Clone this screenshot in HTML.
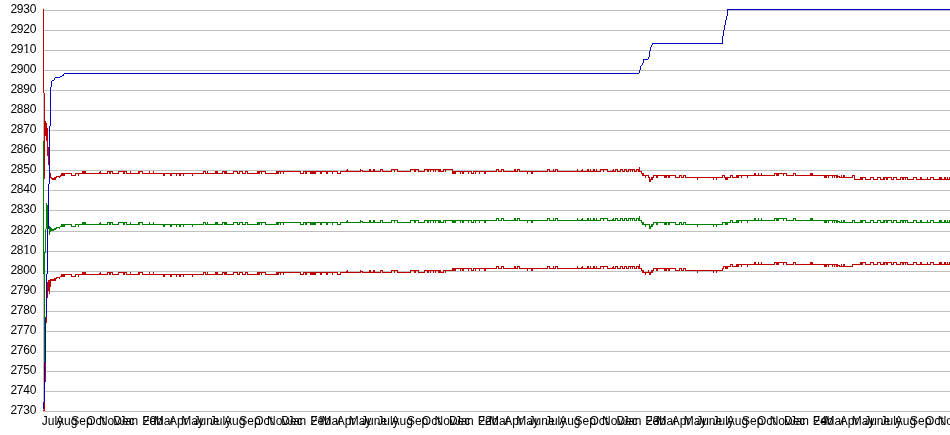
<!DOCTYPE html><html><head><meta charset="utf-8"><title>chart</title><style>
html,body{margin:0;padding:0;background:#fff;overflow:hidden}svg{display:block}text{font-family:"Liberation Sans",sans-serif;font-size:12px;fill:#000}
</style></head><body>
<svg width="950" height="435" viewBox="0 0 950 435" style="will-change:transform">
<defs><filter id="gs" filterUnits="userSpaceOnUse" x="0" y="0" width="950" height="435" color-interpolation-filters="sRGB"><feColorMatrix type="matrix" values="1 0 0 0 0 0 1 0 0 0 0 0 1 0 0 0 0 0 1 0"/></filter></defs>
<rect width="950" height="435" fill="#fff"/>
<g shape-rendering="crispEdges">
<rect x="43" y="10" width="1" height="402" fill="#c0c0c0"/>
<path d="M44 411h906v1h-906zM44 391h906v1h-906zM44 371h906v1h-906zM44 351h906v1h-906zM44 331h906v1h-906zM44 311h906v1h-906zM44 291h906v1h-906zM44 271h906v1h-906zM44 251h906v1h-906zM44 231h906v1h-906zM44 210h906v1h-906zM44 190h906v1h-906zM44 170h906v1h-906zM44 150h906v1h-906zM44 130h906v1h-906zM44 110h906v1h-906zM44 90h906v1h-906zM44 70h906v1h-906zM44 50h906v1h-906zM44 30h906v1h-906zM44 10h906v1h-906z" fill="#c0c0c0"/>
<path d="M43 9h1v1h-1zM43 10h1v1h-1zM43 11h1v1h-1zM43 12h1v1h-1zM43 13h1v1h-1zM43 14h1v1h-1zM43 15h1v1h-1zM43 16h1v1h-1zM43 17h1v1h-1zM43 18h1v1h-1zM43 19h1v1h-1zM43 20h1v1h-1zM43 21h1v1h-1zM43 22h1v1h-1zM43 23h1v1h-1zM43 24h1v1h-1zM43 25h1v1h-1zM43 26h1v1h-1zM43 27h1v1h-1zM43 28h1v1h-1zM43 29h1v1h-1zM43 30h1v1h-1zM43 31h1v1h-1zM43 32h1v1h-1zM43 33h1v1h-1zM43 34h1v1h-1zM43 35h1v1h-1zM43 36h1v1h-1zM43 37h1v1h-1zM43 38h1v1h-1zM43 39h1v1h-1zM43 40h1v1h-1zM43 41h1v1h-1zM43 42h1v1h-1zM43 43h1v1h-1zM43 44h1v1h-1zM43 45h1v1h-1zM43 46h1v1h-1zM43 47h1v1h-1zM43 48h1v1h-1zM43 49h1v1h-1zM43 50h1v1h-1zM43 51h1v1h-1zM43 52h1v1h-1zM43 53h1v1h-1zM43 54h1v1h-1zM43 55h1v1h-1zM43 56h1v1h-1zM43 57h1v1h-1zM43 58h1v1h-1zM43 59h1v1h-1zM43 60h1v1h-1zM43 61h1v1h-1zM43 62h1v1h-1zM43 63h1v1h-1zM43 64h1v1h-1zM43 65h1v1h-1zM43 66h1v1h-1zM43 67h1v1h-1zM43 68h1v1h-1zM43 69h1v1h-1zM43 70h1v1h-1zM43 71h1v1h-1zM43 72h1v1h-1zM43 73h1v1h-1zM43 74h1v1h-1zM43 75h1v1h-1zM43 76h1v1h-1zM43 77h1v1h-1zM43 78h1v1h-1zM43 79h1v1h-1zM43 80h1v1h-1zM43 81h1v1h-1zM43 82h1v1h-1zM43 83h1v1h-1zM43 84h1v1h-1zM43 85h1v1h-1zM43 86h1v1h-1zM43 87h1v1h-1zM43 88h1v1h-1zM43 89h1v1h-1zM43 90h1v1h-1zM43 91h1v1h-1zM43 92h1v1h-1zM44 93h1v1h-1zM44 94h1v1h-1zM44 95h1v1h-1zM44 96h1v1h-1zM44 97h1v1h-1zM44 98h1v1h-1zM44 99h1v1h-1zM44 100h1v1h-1zM44 101h1v1h-1zM44 102h1v1h-1zM44 103h1v1h-1zM44 104h1v1h-1zM44 105h1v1h-1zM44 106h1v1h-1zM44 107h1v1h-1zM44 108h1v1h-1zM44 109h1v1h-1zM44 110h1v1h-1zM44 111h1v1h-1zM44 112h1v1h-1zM44 113h1v1h-1zM44 114h1v1h-1zM44 115h1v1h-1zM44 116h1v1h-1zM44 117h1v1h-1zM44 118h1v1h-1zM44 119h1v1h-1zM44 120h1v1h-1zM44 121h2v1h-2zM44 122h2v1h-2zM44 123h3v1h-3zM44 124h3v1h-3zM44 125h3v1h-3zM44 126h3v1h-3zM44 127h3v1h-3zM44 128h4v1h-4zM44 129h4v1h-4zM44 130h4v1h-4zM44 131h4v1h-4zM44 132h4v1h-4zM44 133h4v1h-4zM44 134h4v1h-4zM44 135h4v1h-4zM44 136h1v1h-1zM46 136h2v1h-2zM44 137h1v1h-1zM46 137h2v1h-2zM44 138h1v1h-1zM46 138h2v1h-2zM44 139h1v1h-1zM46 139h2v1h-2zM44 140h1v1h-1zM46 140h2v1h-2zM44 141h1v1h-1zM47 141h1v1h-1zM44 142h1v1h-1zM47 142h1v1h-1zM44 143h1v1h-1zM47 143h1v1h-1zM44 144h1v1h-1zM47 144h1v1h-1zM44 145h1v1h-1zM47 145h1v1h-1zM44 146h1v1h-1zM47 146h1v1h-1zM44 147h1v1h-1zM47 147h2v1h-2zM44 148h1v1h-1zM47 148h2v1h-2zM44 149h1v1h-1zM47 149h2v1h-2zM44 150h1v1h-1zM47 150h2v1h-2zM44 151h1v1h-1zM47 151h2v1h-2zM44 152h1v1h-1zM47 152h2v1h-2zM44 153h1v1h-1zM47 153h2v1h-2zM44 154h1v1h-1zM47 154h2v1h-2zM44 155h1v1h-1zM47 155h2v1h-2zM44 156h1v1h-1zM48 156h1v1h-1zM44 157h1v1h-1zM48 157h1v1h-1zM44 158h1v1h-1zM48 158h1v1h-1zM44 159h1v1h-1zM48 159h1v1h-1zM44 160h1v1h-1zM48 160h1v1h-1zM44 161h1v1h-1zM48 161h1v1h-1zM44 162h1v1h-1zM48 162h1v1h-1zM44 163h1v1h-1zM48 163h1v1h-1zM44 164h1v1h-1zM48 164h1v1h-1zM44 165h1v1h-1zM44 166h1v1h-1zM44 167h1v1h-1zM639 167h1v1h-1zM44 168h1v1h-1zM639 168h1v1h-1zM44 169h1v1h-1zM347 169h1v1h-1zM360 169h1v1h-1zM369 169h2v1h-2zM373 169h2v1h-2zM380 169h3v1h-3zM391 169h7v1h-7zM410 169h9v1h-9zM424 169h17v1h-17zM443 169h10v1h-10zM496 169h3v1h-3zM501 169h3v1h-3zM514 169h2v1h-2zM517 169h3v1h-3zM547 169h3v1h-3zM553 169h1v1h-1zM555 169h3v1h-3zM577 169h1v1h-1zM582 169h1v1h-1zM587 169h2v1h-2zM590 169h1v1h-1zM593 169h2v1h-2zM596 169h1v1h-1zM600 169h8v1h-8zM613 169h1v1h-1zM615 169h3v1h-3zM620 169h3v1h-3zM624 169h3v1h-3zM628 169h7v1h-7zM636 169h4v1h-4zM44 170h1v1h-1zM346 170h2v1h-2zM360 170h3v1h-3zM369 170h2v1h-2zM373 170h2v1h-2zM380 170h1v1h-1zM382 170h1v1h-1zM391 170h1v1h-1zM394 170h1v1h-1zM397 170h1v1h-1zM410 170h1v1h-1zM414 170h2v1h-2zM418 170h1v1h-1zM424 170h1v1h-1zM427 170h2v1h-2zM430 170h1v1h-1zM433 170h1v1h-1zM435 170h1v1h-1zM438 170h3v1h-3zM443 170h1v1h-1zM445 170h1v1h-1zM452 170h1v1h-1zM496 170h1v1h-1zM498 170h1v1h-1zM501 170h1v1h-1zM503 170h1v1h-1zM514 170h2v1h-2zM517 170h1v1h-1zM519 170h1v1h-1zM547 170h1v1h-1zM549 170h1v1h-1zM553 170h1v1h-1zM555 170h1v1h-1zM557 170h1v1h-1zM577 170h1v1h-1zM581 170h2v1h-2zM587 170h2v1h-2zM590 170h1v1h-1zM593 170h2v1h-2zM596 170h1v1h-1zM600 170h1v1h-1zM603 170h1v1h-1zM607 170h1v1h-1zM612 170h2v1h-2zM615 170h1v1h-1zM617 170h1v1h-1zM620 170h1v1h-1zM622 170h1v1h-1zM624 170h1v1h-1zM626 170h1v1h-1zM628 170h1v1h-1zM630 170h1v1h-1zM632 170h1v1h-1zM634 170h1v1h-1zM636 170h1v1h-1zM638 170h2v1h-2zM44 171h1v1h-1zM82 171h4v1h-4zM100 171h1v1h-1zM107 171h6v1h-6zM118 171h9v1h-9zM130 171h1v1h-1zM138 171h5v1h-5zM149 171h1v1h-1zM153 171h1v1h-1zM203 171h3v1h-3zM207 171h1v1h-1zM215 171h3v1h-3zM222 171h5v1h-5zM233 171h5v1h-5zM239 171h4v1h-4zM245 171h3v1h-3zM257 171h9v1h-9zM276 171h25v1h-25zM303 171h35v1h-35zM340 171h21v1h-21zM362 171h19v1h-19zM382 171h10v1h-10zM394 171h1v1h-1zM397 171h14v1h-14zM414 171h2v1h-2zM418 171h7v1h-7zM427 171h2v1h-2zM430 171h1v1h-1zM433 171h1v1h-1zM435 171h1v1h-1zM438 171h6v1h-6zM445 171h1v1h-1zM452 171h20v1h-20zM473 171h24v1h-24zM498 171h4v1h-4zM503 171h15v1h-15zM519 171h29v1h-29zM549 171h7v1h-7zM557 171h44v1h-44zM603 171h1v1h-1zM607 171h9v1h-9zM617 171h4v1h-4zM622 171h3v1h-3zM626 171h3v1h-3zM630 171h1v1h-1zM632 171h1v1h-1zM634 171h3v1h-3zM638 171h4v1h-4zM44 172h1v1h-1zM82 172h4v1h-4zM99 172h2v1h-2zM107 172h1v1h-1zM109 172h2v1h-2zM112 172h1v1h-1zM118 172h1v1h-1zM123 172h2v1h-2zM126 172h1v1h-1zM130 172h1v1h-1zM138 172h2v1h-2zM142 172h1v1h-1zM149 172h1v1h-1zM153 172h1v1h-1zM203 172h1v1h-1zM205 172h1v1h-1zM207 172h1v1h-1zM215 172h3v1h-3zM222 172h1v1h-1zM224 172h3v1h-3zM233 172h1v1h-1zM237 172h1v1h-1zM239 172h1v1h-1zM242 172h1v1h-1zM245 172h1v1h-1zM247 172h1v1h-1zM257 172h3v1h-3zM261 172h1v1h-1zM265 172h1v1h-1zM276 172h3v1h-3zM280 172h1v1h-1zM283 172h1v1h-1zM300 172h1v1h-1zM303 172h1v1h-1zM305 172h2v1h-2zM310 172h6v1h-6zM320 172h2v1h-2zM326 172h2v1h-2zM332 172h1v1h-1zM337 172h1v1h-1zM340 172h1v1h-1zM452 172h4v1h-4zM460 172h1v1h-1zM462 172h2v1h-2zM468 172h1v1h-1zM471 172h1v1h-1zM473 172h1v1h-1zM475 172h1v1h-1zM479 172h1v1h-1zM484 172h2v1h-2zM527 172h1v1h-1zM531 172h2v1h-2zM641 172h1v1h-1zM44 173h1v1h-1zM50 173h1v1h-1zM61 173h11v1h-11zM75 173h33v1h-33zM109 173h2v1h-2zM112 173h7v1h-7zM123 173h2v1h-2zM126 173h14v1h-14zM142 173h62v1h-62zM205 173h18v1h-18zM224 173h10v1h-10zM237 173h3v1h-3zM242 173h4v1h-4zM247 173h13v1h-13zM261 173h1v1h-1zM265 173h14v1h-14zM280 173h1v1h-1zM283 173h1v1h-1zM300 173h4v1h-4zM305 173h2v1h-2zM310 173h6v1h-6zM320 173h2v1h-2zM326 173h2v1h-2zM332 173h1v1h-1zM337 173h4v1h-4zM452 173h4v1h-4zM460 173h1v1h-1zM462 173h2v1h-2zM468 173h1v1h-1zM471 173h3v1h-3zM475 173h1v1h-1zM479 173h1v1h-1zM484 173h2v1h-2zM527 173h1v1h-1zM531 173h2v1h-2zM641 173h3v1h-3zM754 173h2v1h-2zM758 173h1v1h-1zM761 173h1v1h-1zM774 173h13v1h-13zM793 173h3v1h-3zM810 173h3v1h-3zM44 174h1v1h-1zM50 174h1v1h-1zM61 174h4v1h-4zM71 174h1v1h-1zM75 174h1v1h-1zM78 174h1v1h-1zM163 174h2v1h-2zM170 174h2v1h-2zM176 174h1v1h-1zM179 174h2v1h-2zM183 174h1v1h-1zM192 174h1v1h-1zM642 174h2v1h-2zM754 174h2v1h-2zM758 174h1v1h-1zM761 174h1v1h-1zM774 174h1v1h-1zM776 174h3v1h-3zM783 174h1v1h-1zM786 174h1v1h-1zM793 174h1v1h-1zM795 174h1v1h-1zM810 174h3v1h-3zM44 175h1v1h-1zM50 175h1v1h-1zM60 175h5v1h-5zM71 175h5v1h-5zM78 175h1v1h-1zM163 175h2v1h-2zM170 175h2v1h-2zM176 175h1v1h-1zM179 175h2v1h-2zM183 175h1v1h-1zM192 175h1v1h-1zM642 175h7v1h-7zM653 175h23v1h-23zM679 175h3v1h-3zM683 175h3v1h-3zM722 175h3v1h-3zM730 175h3v1h-3zM736 175h39v1h-39zM776 175h3v1h-3zM783 175h1v1h-1zM786 175h8v1h-8zM795 175h43v1h-43zM841 175h1v1h-1zM843 175h2v1h-2zM852 175h3v1h-3zM44 176h1v1h-1zM50 176h1v1h-1zM56 176h5v1h-5zM645 176h1v1h-1zM648 176h1v1h-1zM653 176h1v1h-1zM656 176h2v1h-2zM664 176h3v1h-3zM668 176h2v1h-2zM675 176h1v1h-1zM679 176h1v1h-1zM681 176h1v1h-1zM683 176h1v1h-1zM685 176h1v1h-1zM722 176h1v1h-1zM724 176h1v1h-1zM730 176h1v1h-1zM732 176h1v1h-1zM736 176h3v1h-3zM741 176h1v1h-1zM747 176h1v1h-1zM824 176h3v1h-3zM828 176h1v1h-1zM832 176h1v1h-1zM834 176h1v1h-1zM836 176h4v1h-4zM841 176h1v1h-1zM843 176h2v1h-2zM852 176h1v1h-1zM854 176h1v1h-1zM44 177h1v1h-1zM50 177h2v1h-2zM54 177h3v1h-3zM59 177h1v1h-1zM645 177h1v1h-1zM648 177h2v1h-2zM651 177h3v1h-3zM656 177h2v1h-2zM664 177h3v1h-3zM668 177h2v1h-2zM675 177h5v1h-5zM681 177h3v1h-3zM685 177h38v1h-38zM724 177h7v1h-7zM732 177h7v1h-7zM741 177h1v1h-1zM747 177h1v1h-1zM824 177h3v1h-3zM828 177h1v1h-1zM832 177h1v1h-1zM834 177h1v1h-1zM836 177h2v1h-2zM839 177h14v1h-14zM854 177h1v1h-1zM860 177h6v1h-6zM870 177h4v1h-4zM877 177h4v1h-4zM883 177h9v1h-9zM893 177h4v1h-4zM900 177h8v1h-8zM913 177h4v1h-4zM920 177h2v1h-2zM927 177h1v1h-1zM930 177h4v1h-4zM939 177h3v1h-3zM944 177h2v1h-2zM947 177h1v1h-1zM949 177h1v1h-1zM44 178h1v1h-1zM51 178h5v1h-5zM649 178h1v1h-1zM651 178h2v1h-2zM697 178h1v1h-1zM713 178h1v1h-1zM716 178h1v1h-1zM725 178h3v1h-3zM854 178h1v1h-1zM860 178h3v1h-3zM865 178h1v1h-1zM870 178h1v1h-1zM873 178h1v1h-1zM877 178h1v1h-1zM880 178h1v1h-1zM883 178h2v1h-2zM886 178h2v1h-2zM891 178h1v1h-1zM893 178h1v1h-1zM896 178h1v1h-1zM900 178h1v1h-1zM902 178h2v1h-2zM905 178h1v1h-1zM907 178h1v1h-1zM913 178h1v1h-1zM916 178h1v1h-1zM920 178h2v1h-2zM927 178h1v1h-1zM930 178h1v1h-1zM933 178h1v1h-1zM939 178h3v1h-3zM944 178h2v1h-2zM947 178h1v1h-1zM949 178h1v1h-1zM52 179h4v1h-4zM649 179h4v1h-4zM697 179h1v1h-1zM713 179h1v1h-1zM716 179h1v1h-1zM725 179h3v1h-3zM854 179h9v1h-9zM865 179h6v1h-6zM873 179h5v1h-5zM880 179h5v1h-5zM886 179h2v1h-2zM891 179h3v1h-3zM896 179h5v1h-5zM902 179h2v1h-2zM905 179h1v1h-1zM907 179h7v1h-7zM916 179h15v1h-15zM933 179h17v1h-17zM649 180h2v1h-2zM649 181h2v1h-2zM754 262h2v1h-2zM758 262h1v1h-1zM761 262h1v1h-1zM774 262h13v1h-13zM793 262h3v1h-3zM810 262h3v1h-3zM860 262h6v1h-6zM870 262h4v1h-4zM877 262h4v1h-4zM883 262h9v1h-9zM893 262h4v1h-4zM900 262h8v1h-8zM913 262h4v1h-4zM920 262h2v1h-2zM927 262h1v1h-1zM930 262h4v1h-4zM939 262h3v1h-3zM944 262h2v1h-2zM947 262h1v1h-1zM949 262h1v1h-1zM754 263h2v1h-2zM758 263h1v1h-1zM761 263h1v1h-1zM774 263h1v1h-1zM776 263h3v1h-3zM783 263h1v1h-1zM786 263h1v1h-1zM793 263h1v1h-1zM795 263h1v1h-1zM810 263h3v1h-3zM860 263h3v1h-3zM865 263h1v1h-1zM870 263h1v1h-1zM873 263h1v1h-1zM877 263h1v1h-1zM880 263h1v1h-1zM883 263h2v1h-2zM886 263h2v1h-2zM891 263h1v1h-1zM893 263h1v1h-1zM896 263h1v1h-1zM900 263h1v1h-1zM902 263h2v1h-2zM905 263h1v1h-1zM907 263h1v1h-1zM913 263h1v1h-1zM916 263h1v1h-1zM920 263h2v1h-2zM927 263h1v1h-1zM930 263h1v1h-1zM933 263h1v1h-1zM939 263h3v1h-3zM944 263h2v1h-2zM947 263h1v1h-1zM949 263h1v1h-1zM639 264h1v1h-1zM730 264h3v1h-3zM736 264h39v1h-39zM776 264h3v1h-3zM783 264h1v1h-1zM786 264h8v1h-8zM795 264h43v1h-43zM841 264h1v1h-1zM843 264h2v1h-2zM852 264h11v1h-11zM865 264h6v1h-6zM873 264h5v1h-5zM880 264h5v1h-5zM886 264h2v1h-2zM891 264h3v1h-3zM896 264h5v1h-5zM902 264h2v1h-2zM905 264h1v1h-1zM907 264h7v1h-7zM916 264h15v1h-15zM933 264h17v1h-17zM639 265h1v1h-1zM730 265h1v1h-1zM732 265h1v1h-1zM736 265h3v1h-3zM741 265h1v1h-1zM747 265h1v1h-1zM824 265h3v1h-3zM828 265h1v1h-1zM832 265h1v1h-1zM834 265h1v1h-1zM836 265h4v1h-4zM841 265h1v1h-1zM843 265h2v1h-2zM852 265h1v1h-1zM496 266h3v1h-3zM501 266h3v1h-3zM514 266h2v1h-2zM517 266h3v1h-3zM547 266h3v1h-3zM553 266h1v1h-1zM555 266h3v1h-3zM577 266h1v1h-1zM582 266h1v1h-1zM587 266h2v1h-2zM590 266h1v1h-1zM593 266h2v1h-2zM596 266h1v1h-1zM600 266h8v1h-8zM613 266h1v1h-1zM615 266h3v1h-3zM620 266h3v1h-3zM624 266h3v1h-3zM628 266h7v1h-7zM636 266h4v1h-4zM723 266h8v1h-8zM732 266h7v1h-7zM741 266h1v1h-1zM747 266h1v1h-1zM824 266h3v1h-3zM828 266h1v1h-1zM832 266h1v1h-1zM834 266h1v1h-1zM836 266h2v1h-2zM839 266h14v1h-14zM496 267h1v1h-1zM498 267h1v1h-1zM501 267h1v1h-1zM503 267h1v1h-1zM514 267h2v1h-2zM517 267h1v1h-1zM519 267h1v1h-1zM547 267h1v1h-1zM549 267h1v1h-1zM553 267h1v1h-1zM555 267h1v1h-1zM557 267h1v1h-1zM577 267h1v1h-1zM581 267h2v1h-2zM587 267h2v1h-2zM590 267h1v1h-1zM593 267h2v1h-2zM596 267h1v1h-1zM600 267h1v1h-1zM603 267h1v1h-1zM607 267h1v1h-1zM612 267h2v1h-2zM615 267h1v1h-1zM617 267h1v1h-1zM620 267h1v1h-1zM622 267h1v1h-1zM624 267h1v1h-1zM626 267h1v1h-1zM628 267h1v1h-1zM630 267h1v1h-1zM632 267h1v1h-1zM634 267h1v1h-1zM636 267h1v1h-1zM638 267h2v1h-2zM723 267h1v1h-1zM725 267h3v1h-3zM452 268h20v1h-20zM473 268h24v1h-24zM498 268h4v1h-4zM503 268h15v1h-15zM519 268h29v1h-29zM549 268h7v1h-7zM557 268h44v1h-44zM603 268h1v1h-1zM607 268h9v1h-9zM617 268h4v1h-4zM622 268h3v1h-3zM626 268h3v1h-3zM630 268h1v1h-1zM632 268h1v1h-1zM634 268h3v1h-3zM638 268h4v1h-4zM653 268h23v1h-23zM679 268h3v1h-3zM683 268h3v1h-3zM722 268h2v1h-2zM725 268h3v1h-3zM452 269h4v1h-4zM460 269h1v1h-1zM462 269h2v1h-2zM468 269h1v1h-1zM471 269h1v1h-1zM473 269h1v1h-1zM475 269h1v1h-1zM479 269h1v1h-1zM484 269h2v1h-2zM527 269h1v1h-1zM531 269h2v1h-2zM641 269h1v1h-1zM653 269h1v1h-1zM656 269h2v1h-2zM664 269h3v1h-3zM668 269h2v1h-2zM675 269h1v1h-1zM679 269h1v1h-1zM681 269h1v1h-1zM683 269h1v1h-1zM685 269h1v1h-1zM722 269h1v1h-1zM347 270h1v1h-1zM360 270h1v1h-1zM369 270h2v1h-2zM373 270h2v1h-2zM380 270h3v1h-3zM391 270h7v1h-7zM410 270h9v1h-9zM424 270h17v1h-17zM443 270h13v1h-13zM460 270h1v1h-1zM462 270h2v1h-2zM468 270h1v1h-1zM471 270h3v1h-3zM475 270h1v1h-1zM479 270h1v1h-1zM484 270h2v1h-2zM527 270h1v1h-1zM531 270h2v1h-2zM641 270h3v1h-3zM648 270h1v1h-1zM651 270h3v1h-3zM656 270h2v1h-2zM664 270h3v1h-3zM668 270h2v1h-2zM675 270h5v1h-5zM681 270h3v1h-3zM685 270h38v1h-38zM346 271h2v1h-2zM360 271h3v1h-3zM369 271h2v1h-2zM373 271h2v1h-2zM380 271h1v1h-1zM382 271h1v1h-1zM391 271h1v1h-1zM394 271h1v1h-1zM397 271h1v1h-1zM410 271h1v1h-1zM414 271h2v1h-2zM418 271h1v1h-1zM424 271h1v1h-1zM427 271h2v1h-2zM430 271h1v1h-1zM433 271h1v1h-1zM435 271h1v1h-1zM438 271h3v1h-3zM443 271h1v1h-1zM445 271h1v1h-1zM642 271h2v1h-2zM648 271h1v1h-1zM651 271h2v1h-2zM697 271h1v1h-1zM713 271h1v1h-1zM716 271h1v1h-1zM82 272h4v1h-4zM100 272h1v1h-1zM107 272h6v1h-6zM118 272h9v1h-9zM130 272h1v1h-1zM138 272h5v1h-5zM149 272h1v1h-1zM153 272h1v1h-1zM203 272h3v1h-3zM207 272h1v1h-1zM215 272h3v1h-3zM222 272h5v1h-5zM233 272h5v1h-5zM239 272h4v1h-4zM245 272h3v1h-3zM257 272h9v1h-9zM276 272h25v1h-25zM303 272h35v1h-35zM340 272h21v1h-21zM362 272h19v1h-19zM382 272h10v1h-10zM394 272h1v1h-1zM397 272h14v1h-14zM414 272h2v1h-2zM418 272h7v1h-7zM427 272h2v1h-2zM430 272h1v1h-1zM433 272h1v1h-1zM435 272h1v1h-1zM438 272h6v1h-6zM445 272h1v1h-1zM642 272h11v1h-11zM697 272h1v1h-1zM713 272h1v1h-1zM716 272h1v1h-1zM82 273h4v1h-4zM99 273h2v1h-2zM107 273h1v1h-1zM109 273h2v1h-2zM112 273h1v1h-1zM118 273h1v1h-1zM123 273h2v1h-2zM126 273h1v1h-1zM130 273h1v1h-1zM138 273h2v1h-2zM142 273h1v1h-1zM149 273h1v1h-1zM153 273h1v1h-1zM203 273h1v1h-1zM205 273h1v1h-1zM207 273h1v1h-1zM215 273h3v1h-3zM222 273h1v1h-1zM224 273h3v1h-3zM233 273h1v1h-1zM237 273h1v1h-1zM239 273h1v1h-1zM242 273h1v1h-1zM245 273h1v1h-1zM247 273h1v1h-1zM257 273h3v1h-3zM261 273h1v1h-1zM265 273h1v1h-1zM276 273h3v1h-3zM280 273h1v1h-1zM283 273h1v1h-1zM300 273h1v1h-1zM303 273h1v1h-1zM305 273h2v1h-2zM310 273h6v1h-6zM320 273h2v1h-2zM326 273h2v1h-2zM332 273h1v1h-1zM337 273h1v1h-1zM340 273h1v1h-1zM645 273h1v1h-1zM649 273h2v1h-2zM61 274h11v1h-11zM75 274h33v1h-33zM109 274h2v1h-2zM112 274h7v1h-7zM123 274h2v1h-2zM126 274h14v1h-14zM142 274h62v1h-62zM205 274h18v1h-18zM224 274h10v1h-10zM237 274h3v1h-3zM242 274h4v1h-4zM247 274h13v1h-13zM261 274h1v1h-1zM265 274h14v1h-14zM280 274h1v1h-1zM283 274h1v1h-1zM300 274h4v1h-4zM305 274h2v1h-2zM310 274h6v1h-6zM320 274h2v1h-2zM326 274h2v1h-2zM332 274h1v1h-1zM337 274h4v1h-4zM645 274h1v1h-1zM649 274h2v1h-2zM61 275h4v1h-4zM71 275h1v1h-1zM75 275h1v1h-1zM78 275h1v1h-1zM163 275h2v1h-2zM170 275h2v1h-2zM176 275h1v1h-1zM179 275h2v1h-2zM183 275h1v1h-1zM192 275h1v1h-1zM60 276h5v1h-5zM71 276h5v1h-5zM78 276h1v1h-1zM163 276h2v1h-2zM170 276h2v1h-2zM176 276h1v1h-1zM179 276h2v1h-2zM183 276h1v1h-1zM192 276h1v1h-1zM56 277h4v1h-4zM54 278h3v1h-3zM59 278h1v1h-1zM50 279h6v1h-6zM48 280h8v1h-8zM48 281h3v1h-3zM47 282h4v1h-4zM47 283h4v1h-4zM47 284h4v1h-4zM47 285h4v1h-4zM47 286h4v1h-4zM47 287h3v1h-3zM47 288h3v1h-3zM47 289h3v1h-3zM47 290h3v1h-3zM47 291h1v1h-1zM49 291h1v1h-1zM47 292h1v1h-1zM49 292h1v1h-1zM47 293h1v1h-1zM49 293h1v1h-1zM47 294h1v1h-1zM47 295h1v1h-1zM47 296h1v1h-1zM47 297h1v1h-1zM46 317h1v1h-1zM46 318h1v1h-1zM46 319h1v1h-1zM46 320h1v1h-1zM46 321h1v1h-1zM46 322h1v1h-1zM45 362h1v1h-1zM45 363h1v1h-1zM45 364h1v1h-1zM45 365h1v1h-1zM45 366h1v1h-1zM45 367h1v1h-1zM45 368h1v1h-1zM45 369h1v1h-1zM45 370h1v1h-1zM45 371h1v1h-1zM45 372h1v1h-1zM45 373h1v1h-1zM45 374h1v1h-1zM45 375h1v1h-1zM45 376h1v1h-1zM45 377h1v1h-1zM45 378h1v1h-1zM45 379h1v1h-1zM45 380h1v1h-1zM45 381h1v1h-1zM44 402h1v1h-1zM44 403h1v1h-1zM44 404h1v1h-1zM44 405h1v1h-1zM44 406h1v1h-1zM44 407h1v1h-1zM44 408h1v1h-1zM44 409h1v1h-1zM43 410h2v1h-2z" fill="#c00000"/>
<path d="M43 141h1v1h-1zM43 142h1v1h-1zM43 143h1v1h-1zM43 144h1v1h-1zM43 145h1v1h-1zM43 146h1v1h-1zM43 147h1v1h-1zM43 148h1v1h-1zM43 149h1v1h-1zM43 150h1v1h-1zM43 151h1v1h-1zM43 152h1v1h-1zM43 153h1v1h-1zM43 154h1v1h-1zM43 155h1v1h-1zM43 156h1v1h-1zM43 157h1v1h-1zM43 158h1v1h-1zM43 159h1v1h-1zM43 160h1v1h-1zM43 161h1v1h-1zM43 162h1v1h-1zM43 163h1v1h-1zM43 164h1v1h-1zM43 165h1v1h-1zM43 166h1v1h-1zM43 167h1v1h-1zM43 168h1v1h-1zM43 169h1v1h-1zM43 170h1v1h-1zM43 171h1v1h-1zM43 172h1v1h-1zM43 173h1v1h-1zM43 174h1v1h-1zM43 175h1v1h-1zM43 176h1v1h-1zM43 177h1v1h-1zM43 178h1v1h-1zM43 179h1v1h-1zM43 180h1v1h-1zM43 181h1v1h-1zM43 182h1v1h-1zM43 183h1v1h-1zM43 184h1v1h-1zM43 185h1v1h-1zM43 186h1v1h-1zM43 187h1v1h-1zM43 188h1v1h-1zM43 189h1v1h-1zM43 190h1v1h-1zM43 191h1v1h-1zM43 192h1v1h-1zM43 193h1v1h-1zM43 194h1v1h-1zM43 195h1v1h-1zM43 196h1v1h-1zM43 197h1v1h-1zM43 198h1v1h-1zM43 199h1v1h-1zM43 200h1v1h-1zM43 201h1v1h-1zM43 202h1v1h-1zM43 203h1v1h-1zM46 203h1v1h-1zM43 204h1v1h-1zM46 204h1v1h-1zM43 205h1v1h-1zM46 205h2v1h-2zM43 206h1v1h-1zM46 206h2v1h-2zM43 207h1v1h-1zM46 207h2v1h-2zM43 208h1v1h-1zM46 208h2v1h-2zM43 209h1v1h-1zM46 209h2v1h-2zM43 210h1v1h-1zM46 210h2v1h-2zM43 211h1v1h-1zM46 211h2v1h-2zM43 212h1v1h-1zM46 212h2v1h-2zM43 213h1v1h-1zM46 213h2v1h-2zM43 214h1v1h-1zM46 214h2v1h-2zM43 215h1v1h-1zM46 215h2v1h-2zM43 216h1v1h-1zM46 216h2v1h-2zM639 216h1v1h-1zM43 217h1v1h-1zM46 217h2v1h-2zM639 217h1v1h-1zM43 218h1v1h-1zM46 218h2v1h-2zM496 218h3v1h-3zM501 218h3v1h-3zM514 218h2v1h-2zM517 218h3v1h-3zM547 218h3v1h-3zM553 218h1v1h-1zM555 218h3v1h-3zM577 218h1v1h-1zM582 218h1v1h-1zM587 218h2v1h-2zM590 218h1v1h-1zM593 218h2v1h-2zM596 218h1v1h-1zM600 218h8v1h-8zM613 218h1v1h-1zM615 218h3v1h-3zM620 218h3v1h-3zM624 218h3v1h-3zM628 218h7v1h-7zM636 218h4v1h-4zM754 218h2v1h-2zM758 218h1v1h-1zM761 218h1v1h-1zM774 218h13v1h-13zM793 218h3v1h-3zM810 218h3v1h-3zM43 219h1v1h-1zM46 219h2v1h-2zM496 219h1v1h-1zM498 219h1v1h-1zM501 219h1v1h-1zM503 219h1v1h-1zM514 219h2v1h-2zM517 219h1v1h-1zM519 219h1v1h-1zM547 219h1v1h-1zM549 219h1v1h-1zM553 219h1v1h-1zM555 219h1v1h-1zM557 219h1v1h-1zM577 219h1v1h-1zM581 219h2v1h-2zM587 219h2v1h-2zM590 219h1v1h-1zM593 219h2v1h-2zM596 219h1v1h-1zM600 219h1v1h-1zM603 219h1v1h-1zM607 219h1v1h-1zM612 219h2v1h-2zM615 219h1v1h-1zM617 219h1v1h-1zM620 219h1v1h-1zM622 219h1v1h-1zM624 219h1v1h-1zM626 219h1v1h-1zM628 219h1v1h-1zM630 219h1v1h-1zM632 219h1v1h-1zM634 219h1v1h-1zM636 219h1v1h-1zM638 219h2v1h-2zM754 219h2v1h-2zM758 219h1v1h-1zM761 219h1v1h-1zM774 219h1v1h-1zM776 219h3v1h-3zM783 219h1v1h-1zM786 219h1v1h-1zM793 219h1v1h-1zM795 219h1v1h-1zM810 219h3v1h-3zM43 220h1v1h-1zM46 220h2v1h-2zM347 220h1v1h-1zM360 220h1v1h-1zM369 220h2v1h-2zM373 220h2v1h-2zM380 220h3v1h-3zM391 220h7v1h-7zM410 220h9v1h-9zM424 220h17v1h-17zM443 220h29v1h-29zM473 220h24v1h-24zM498 220h4v1h-4zM503 220h15v1h-15zM519 220h29v1h-29zM549 220h7v1h-7zM557 220h44v1h-44zM603 220h1v1h-1zM607 220h9v1h-9zM617 220h4v1h-4zM622 220h3v1h-3zM626 220h3v1h-3zM630 220h1v1h-1zM632 220h1v1h-1zM634 220h3v1h-3zM638 220h4v1h-4zM730 220h3v1h-3zM736 220h39v1h-39zM776 220h3v1h-3zM783 220h1v1h-1zM786 220h8v1h-8zM795 220h43v1h-43zM841 220h1v1h-1zM843 220h2v1h-2zM852 220h3v1h-3zM860 220h6v1h-6zM870 220h4v1h-4zM877 220h4v1h-4zM883 220h9v1h-9zM893 220h4v1h-4zM900 220h8v1h-8zM913 220h4v1h-4zM920 220h2v1h-2zM927 220h1v1h-1zM930 220h4v1h-4zM939 220h3v1h-3zM944 220h2v1h-2zM947 220h1v1h-1zM949 220h1v1h-1zM43 221h1v1h-1zM46 221h2v1h-2zM346 221h2v1h-2zM360 221h3v1h-3zM369 221h2v1h-2zM373 221h2v1h-2zM380 221h1v1h-1zM382 221h1v1h-1zM391 221h1v1h-1zM394 221h1v1h-1zM397 221h1v1h-1zM410 221h1v1h-1zM414 221h2v1h-2zM418 221h1v1h-1zM424 221h1v1h-1zM427 221h2v1h-2zM430 221h1v1h-1zM433 221h1v1h-1zM435 221h1v1h-1zM438 221h3v1h-3zM443 221h1v1h-1zM445 221h1v1h-1zM452 221h4v1h-4zM460 221h1v1h-1zM462 221h2v1h-2zM468 221h1v1h-1zM471 221h1v1h-1zM473 221h1v1h-1zM475 221h1v1h-1zM479 221h1v1h-1zM484 221h2v1h-2zM527 221h1v1h-1zM531 221h2v1h-2zM641 221h1v1h-1zM730 221h1v1h-1zM732 221h1v1h-1zM736 221h3v1h-3zM741 221h1v1h-1zM747 221h1v1h-1zM824 221h3v1h-3zM828 221h1v1h-1zM832 221h1v1h-1zM834 221h1v1h-1zM836 221h4v1h-4zM841 221h1v1h-1zM843 221h2v1h-2zM852 221h1v1h-1zM854 221h1v1h-1zM860 221h3v1h-3zM865 221h1v1h-1zM870 221h1v1h-1zM873 221h1v1h-1zM877 221h1v1h-1zM880 221h1v1h-1zM883 221h2v1h-2zM886 221h2v1h-2zM891 221h1v1h-1zM893 221h1v1h-1zM896 221h1v1h-1zM900 221h1v1h-1zM902 221h2v1h-2zM905 221h1v1h-1zM907 221h1v1h-1zM913 221h1v1h-1zM916 221h1v1h-1zM920 221h2v1h-2zM927 221h1v1h-1zM930 221h1v1h-1zM933 221h1v1h-1zM939 221h3v1h-3zM944 221h2v1h-2zM947 221h1v1h-1zM949 221h1v1h-1zM43 222h1v1h-1zM46 222h2v1h-2zM82 222h4v1h-4zM100 222h1v1h-1zM107 222h6v1h-6zM118 222h9v1h-9zM130 222h1v1h-1zM138 222h5v1h-5zM149 222h1v1h-1zM153 222h1v1h-1zM203 222h3v1h-3zM207 222h1v1h-1zM215 222h3v1h-3zM222 222h5v1h-5zM233 222h5v1h-5zM239 222h4v1h-4zM245 222h3v1h-3zM257 222h9v1h-9zM276 222h25v1h-25zM303 222h35v1h-35zM340 222h21v1h-21zM362 222h19v1h-19zM382 222h10v1h-10zM394 222h1v1h-1zM397 222h14v1h-14zM414 222h2v1h-2zM418 222h7v1h-7zM427 222h2v1h-2zM430 222h1v1h-1zM433 222h1v1h-1zM435 222h1v1h-1zM438 222h6v1h-6zM445 222h1v1h-1zM452 222h4v1h-4zM460 222h1v1h-1zM462 222h2v1h-2zM468 222h1v1h-1zM471 222h3v1h-3zM475 222h1v1h-1zM479 222h1v1h-1zM484 222h2v1h-2zM527 222h1v1h-1zM531 222h2v1h-2zM641 222h3v1h-3zM653 222h23v1h-23zM679 222h3v1h-3zM683 222h3v1h-3zM722 222h9v1h-9zM732 222h7v1h-7zM741 222h1v1h-1zM747 222h1v1h-1zM824 222h3v1h-3zM828 222h1v1h-1zM832 222h1v1h-1zM834 222h1v1h-1zM836 222h2v1h-2zM839 222h14v1h-14zM854 222h9v1h-9zM865 222h6v1h-6zM873 222h5v1h-5zM880 222h5v1h-5zM886 222h2v1h-2zM891 222h3v1h-3zM896 222h5v1h-5zM902 222h2v1h-2zM905 222h1v1h-1zM907 222h7v1h-7zM916 222h15v1h-15zM933 222h17v1h-17zM43 223h1v1h-1zM46 223h2v1h-2zM82 223h4v1h-4zM99 223h2v1h-2zM107 223h1v1h-1zM109 223h2v1h-2zM112 223h1v1h-1zM118 223h1v1h-1zM123 223h2v1h-2zM126 223h1v1h-1zM130 223h1v1h-1zM138 223h2v1h-2zM142 223h1v1h-1zM149 223h1v1h-1zM153 223h1v1h-1zM203 223h1v1h-1zM205 223h1v1h-1zM207 223h1v1h-1zM215 223h3v1h-3zM222 223h1v1h-1zM224 223h3v1h-3zM233 223h1v1h-1zM237 223h1v1h-1zM239 223h1v1h-1zM242 223h1v1h-1zM245 223h1v1h-1zM247 223h1v1h-1zM257 223h3v1h-3zM261 223h1v1h-1zM265 223h1v1h-1zM276 223h3v1h-3zM280 223h1v1h-1zM283 223h1v1h-1zM300 223h1v1h-1zM303 223h1v1h-1zM305 223h2v1h-2zM310 223h6v1h-6zM320 223h2v1h-2zM326 223h2v1h-2zM332 223h1v1h-1zM337 223h1v1h-1zM340 223h1v1h-1zM642 223h2v1h-2zM653 223h1v1h-1zM656 223h2v1h-2zM664 223h3v1h-3zM668 223h2v1h-2zM675 223h1v1h-1zM679 223h1v1h-1zM681 223h1v1h-1zM683 223h1v1h-1zM685 223h1v1h-1zM722 223h1v1h-1zM725 223h3v1h-3zM43 224h1v1h-1zM46 224h2v1h-2zM61 224h11v1h-11zM75 224h33v1h-33zM109 224h2v1h-2zM112 224h7v1h-7zM123 224h2v1h-2zM126 224h14v1h-14zM142 224h62v1h-62zM205 224h18v1h-18zM224 224h10v1h-10zM237 224h3v1h-3zM242 224h4v1h-4zM247 224h13v1h-13zM261 224h1v1h-1zM265 224h14v1h-14zM280 224h1v1h-1zM283 224h1v1h-1zM300 224h4v1h-4zM305 224h2v1h-2zM310 224h6v1h-6zM320 224h2v1h-2zM326 224h2v1h-2zM332 224h1v1h-1zM337 224h4v1h-4zM642 224h8v1h-8zM651 224h3v1h-3zM656 224h2v1h-2zM664 224h3v1h-3zM668 224h2v1h-2zM675 224h5v1h-5zM681 224h3v1h-3zM685 224h38v1h-38zM725 224h3v1h-3zM43 225h1v1h-1zM46 225h2v1h-2zM61 225h4v1h-4zM71 225h1v1h-1zM75 225h1v1h-1zM78 225h1v1h-1zM163 225h2v1h-2zM170 225h2v1h-2zM176 225h1v1h-1zM179 225h2v1h-2zM183 225h1v1h-1zM192 225h1v1h-1zM645 225h1v1h-1zM649 225h1v1h-1zM651 225h2v1h-2zM697 225h1v1h-1zM713 225h1v1h-1zM716 225h1v1h-1zM43 226h1v1h-1zM46 226h2v1h-2zM49 226h1v1h-1zM60 226h5v1h-5zM71 226h5v1h-5zM78 226h1v1h-1zM163 226h2v1h-2zM170 226h2v1h-2zM176 226h1v1h-1zM179 226h2v1h-2zM183 226h1v1h-1zM192 226h1v1h-1zM645 226h1v1h-1zM649 226h4v1h-4zM697 226h1v1h-1zM713 226h1v1h-1zM716 226h1v1h-1zM43 227h1v1h-1zM46 227h2v1h-2zM49 227h2v1h-2zM56 227h4v1h-4zM649 227h2v1h-2zM43 228h1v1h-1zM46 228h2v1h-2zM49 228h3v1h-3zM54 228h3v1h-3zM59 228h1v1h-1zM649 228h2v1h-2zM43 229h1v1h-1zM45 229h1v1h-1zM49 229h7v1h-7zM43 230h1v1h-1zM45 230h1v1h-1zM49 230h5v1h-5zM43 231h1v1h-1zM45 231h1v1h-1zM49 231h2v1h-2zM43 232h1v1h-1zM45 232h1v1h-1zM49 232h1v1h-1zM43 233h1v1h-1zM45 233h1v1h-1zM49 233h1v1h-1zM43 234h1v1h-1zM45 234h1v1h-1zM49 234h1v1h-1zM43 235h1v1h-1zM45 235h1v1h-1zM43 236h1v1h-1zM45 236h1v1h-1zM43 237h1v1h-1zM45 237h1v1h-1zM43 238h1v1h-1zM45 238h1v1h-1zM43 239h1v1h-1zM45 239h1v1h-1zM43 240h1v1h-1zM45 240h1v1h-1zM43 241h1v1h-1zM45 241h1v1h-1zM43 242h1v1h-1zM45 242h1v1h-1zM43 243h1v1h-1zM45 243h1v1h-1zM43 244h1v1h-1zM45 244h1v1h-1zM43 245h1v1h-1zM45 245h1v1h-1zM43 246h1v1h-1zM45 246h1v1h-1zM43 247h1v1h-1zM45 247h1v1h-1zM43 248h1v1h-1zM45 248h1v1h-1zM43 249h1v1h-1zM45 249h1v1h-1zM43 250h1v1h-1zM45 250h1v1h-1zM43 251h1v1h-1zM45 251h1v1h-1zM43 252h3v1h-3zM43 253h2v1h-2zM43 254h2v1h-2zM43 255h2v1h-2zM43 256h2v1h-2zM43 257h2v1h-2zM43 258h2v1h-2zM43 259h2v1h-2zM43 260h2v1h-2zM43 261h2v1h-2zM43 262h2v1h-2zM43 263h2v1h-2zM43 264h2v1h-2zM43 265h2v1h-2zM43 266h2v1h-2zM43 267h2v1h-2zM43 268h2v1h-2zM43 269h2v1h-2zM43 270h2v1h-2zM43 271h2v1h-2zM43 272h2v1h-2zM43 273h2v1h-2zM44 274h1v1h-1zM44 275h1v1h-1zM44 276h1v1h-1zM44 277h1v1h-1zM44 278h1v1h-1zM44 279h1v1h-1zM44 280h1v1h-1zM44 281h1v1h-1zM44 282h1v1h-1zM44 283h1v1h-1zM44 284h1v1h-1zM44 285h1v1h-1zM44 286h1v1h-1zM44 287h1v1h-1zM44 288h1v1h-1zM44 289h1v1h-1zM44 290h1v1h-1zM44 291h1v1h-1zM44 292h1v1h-1zM44 293h1v1h-1zM44 294h1v1h-1zM44 295h1v1h-1zM44 296h1v1h-1zM44 297h1v1h-1zM44 298h1v1h-1zM44 299h1v1h-1zM44 300h1v1h-1zM44 301h1v1h-1zM44 302h1v1h-1zM44 303h1v1h-1zM44 304h1v1h-1zM44 305h1v1h-1zM44 306h1v1h-1zM44 307h1v1h-1zM44 308h1v1h-1zM44 309h1v1h-1zM44 310h1v1h-1zM44 311h1v1h-1zM44 312h1v1h-1zM44 313h1v1h-1zM44 314h1v1h-1zM44 315h1v1h-1zM44 316h1v1h-1zM44 317h1v1h-1zM44 318h1v1h-1zM44 319h1v1h-1zM44 320h1v1h-1zM44 321h1v1h-1zM44 322h1v1h-1zM44 323h1v1h-1zM44 324h1v1h-1zM44 325h1v1h-1zM44 326h1v1h-1zM44 327h1v1h-1zM44 328h1v1h-1zM44 329h1v1h-1zM44 330h1v1h-1zM44 331h1v1h-1zM44 332h1v1h-1zM44 333h1v1h-1zM44 334h1v1h-1zM44 335h1v1h-1zM44 336h1v1h-1zM44 337h1v1h-1zM44 338h1v1h-1zM44 339h1v1h-1zM44 340h1v1h-1zM44 341h1v1h-1zM44 342h1v1h-1zM44 343h1v1h-1zM44 344h1v1h-1zM44 345h1v1h-1zM44 346h1v1h-1zM44 347h1v1h-1zM44 348h1v1h-1zM44 349h1v1h-1zM44 350h1v1h-1zM44 351h1v1h-1zM44 352h1v1h-1zM44 353h1v1h-1zM44 354h1v1h-1zM44 355h1v1h-1zM44 356h1v1h-1zM44 357h1v1h-1zM44 358h1v1h-1zM44 359h1v1h-1zM44 360h1v1h-1zM44 361h1v1h-1zM44 362h1v1h-1z" fill="#008000"/>
<path d="M727 9h223v1h-223zM727 10h1v1h-1zM727 11h1v1h-1zM727 12h1v1h-1zM727 13h1v1h-1zM727 14h1v1h-1zM727 15h1v1h-1zM726 16h1v1h-1zM726 17h1v1h-1zM726 18h1v1h-1zM726 19h1v1h-1zM725 20h1v1h-1zM725 21h1v1h-1zM725 22h1v1h-1zM725 23h1v1h-1zM725 24h1v1h-1zM724 25h1v1h-1zM724 26h1v1h-1zM724 27h1v1h-1zM724 28h1v1h-1zM724 29h1v1h-1zM723 30h1v1h-1zM723 31h1v1h-1zM723 32h1v1h-1zM723 33h1v1h-1zM723 34h1v1h-1zM723 35h1v1h-1zM722 36h1v1h-1zM722 37h1v1h-1zM722 38h1v1h-1zM722 39h1v1h-1zM722 40h1v1h-1zM722 41h1v1h-1zM722 42h1v1h-1zM652 43h71v1h-71zM652 44h1v1h-1zM651 45h1v1h-1zM651 46h1v1h-1zM650 47h1v1h-1zM650 48h1v1h-1zM650 49h1v1h-1zM650 50h1v1h-1zM649 51h1v1h-1zM649 52h1v1h-1zM649 53h1v1h-1zM649 54h1v1h-1zM649 55h1v1h-1zM649 56h1v1h-1zM648 57h1v1h-1zM648 58h1v1h-1zM643 59h5v1h-5zM643 60h1v1h-1zM643 61h1v1h-1zM643 62h1v1h-1zM642 63h1v1h-1zM642 64h1v1h-1zM641 65h1v1h-1zM640 66h1v1h-1zM640 67h1v1h-1zM640 68h1v1h-1zM640 69h1v1h-1zM639 70h1v1h-1zM639 71h1v1h-1zM639 72h1v1h-1zM64 73h575v1h-575zM63 74h1v1h-1zM62 75h2v1h-2zM60 76h2v1h-2zM55 77h5v1h-5zM54 78h1v1h-1zM54 79h1v1h-1zM52 80h2v1h-2zM51 81h1v1h-1zM51 82h1v1h-1zM51 83h1v1h-1zM51 84h1v1h-1zM51 85h1v1h-1zM51 86h1v1h-1zM50 87h1v1h-1zM50 88h1v1h-1zM50 89h1v1h-1zM50 90h1v1h-1zM50 91h1v1h-1zM50 92h1v1h-1zM50 93h1v1h-1zM50 94h1v1h-1zM50 95h1v1h-1zM50 96h1v1h-1zM50 97h1v1h-1zM50 98h1v1h-1zM50 99h1v1h-1zM50 100h1v1h-1zM50 101h1v1h-1zM50 102h1v1h-1zM50 103h1v1h-1zM50 104h1v1h-1zM50 105h1v1h-1zM50 106h1v1h-1zM50 107h1v1h-1zM50 108h1v1h-1zM50 109h1v1h-1zM50 110h1v1h-1zM50 111h1v1h-1zM50 112h1v1h-1zM50 113h1v1h-1zM50 114h1v1h-1zM50 115h1v1h-1zM50 116h1v1h-1zM50 117h1v1h-1zM50 118h1v1h-1zM50 119h1v1h-1zM50 120h1v1h-1zM50 121h1v1h-1zM50 122h1v1h-1zM50 123h1v1h-1zM50 124h1v1h-1zM50 125h1v1h-1zM49 126h1v1h-1zM49 127h1v1h-1zM49 128h1v1h-1zM49 129h1v1h-1zM49 130h1v1h-1zM49 131h1v1h-1zM49 132h1v1h-1zM49 133h1v1h-1zM49 134h1v1h-1zM49 135h1v1h-1zM49 136h1v1h-1zM49 137h1v1h-1zM49 138h1v1h-1zM49 139h1v1h-1zM49 140h1v1h-1zM49 141h1v1h-1zM49 142h1v1h-1zM49 143h1v1h-1zM49 144h1v1h-1zM49 145h1v1h-1zM49 146h1v1h-1zM49 147h1v1h-1zM49 148h1v1h-1zM49 149h1v1h-1zM49 150h1v1h-1zM49 151h1v1h-1zM49 152h1v1h-1zM49 153h1v1h-1zM49 154h1v1h-1zM49 155h1v1h-1zM49 156h1v1h-1zM49 157h1v1h-1zM49 158h1v1h-1zM49 159h1v1h-1zM49 160h1v1h-1zM49 161h1v1h-1zM49 162h1v1h-1zM49 163h1v1h-1zM49 164h1v1h-1zM49 165h1v1h-1zM49 166h1v1h-1zM49 167h1v1h-1zM49 168h1v1h-1zM49 169h1v1h-1zM49 170h1v1h-1zM49 171h1v1h-1zM49 172h1v1h-1zM49 173h1v1h-1zM49 174h1v1h-1zM49 175h1v1h-1zM49 176h1v1h-1zM49 177h1v1h-1zM49 178h1v1h-1zM49 179h1v1h-1zM49 180h1v1h-1zM49 181h1v1h-1zM49 182h1v1h-1zM49 183h1v1h-1zM48 184h1v1h-1zM48 185h1v1h-1zM48 186h1v1h-1zM48 187h1v1h-1zM48 188h1v1h-1zM48 189h1v1h-1zM48 190h1v1h-1zM48 191h1v1h-1zM48 192h1v1h-1zM48 193h1v1h-1zM48 194h1v1h-1zM48 195h1v1h-1zM48 196h1v1h-1zM48 197h1v1h-1zM48 198h1v1h-1zM48 199h1v1h-1zM48 200h1v1h-1zM48 201h1v1h-1zM48 202h1v1h-1zM48 203h1v1h-1zM48 204h1v1h-1zM48 205h1v1h-1zM48 206h1v1h-1zM48 207h1v1h-1zM48 208h1v1h-1zM48 209h1v1h-1zM48 210h1v1h-1zM48 211h1v1h-1zM48 212h1v1h-1zM48 213h1v1h-1zM48 214h1v1h-1zM48 215h1v1h-1zM48 216h1v1h-1zM48 217h1v1h-1zM48 218h1v1h-1zM48 219h1v1h-1zM48 220h1v1h-1zM48 221h1v1h-1zM48 222h1v1h-1zM48 223h1v1h-1zM48 224h1v1h-1zM48 225h1v1h-1zM48 226h1v1h-1zM48 227h1v1h-1zM48 228h1v1h-1zM47 229h1v1h-1zM47 230h1v1h-1zM47 231h1v1h-1zM47 232h1v1h-1zM47 233h1v1h-1zM47 234h1v1h-1zM47 235h1v1h-1zM47 236h1v1h-1zM47 237h1v1h-1zM47 238h1v1h-1zM47 239h1v1h-1zM47 240h1v1h-1zM47 241h1v1h-1zM47 242h1v1h-1zM47 243h1v1h-1zM47 244h1v1h-1zM47 245h1v1h-1zM47 246h1v1h-1zM47 247h1v1h-1zM47 248h1v1h-1zM47 249h1v1h-1zM47 250h1v1h-1zM47 251h1v1h-1zM47 252h1v1h-1zM47 253h1v1h-1zM47 254h1v1h-1zM47 255h1v1h-1zM47 256h1v1h-1zM47 257h1v1h-1zM47 258h1v1h-1zM47 259h1v1h-1zM47 260h1v1h-1zM47 261h1v1h-1zM47 262h1v1h-1zM47 263h1v1h-1zM47 264h1v1h-1zM47 265h1v1h-1zM47 266h1v1h-1zM47 267h1v1h-1zM47 268h1v1h-1zM47 269h1v1h-1zM47 270h1v1h-1zM47 271h1v1h-1zM47 272h1v1h-1zM47 273h1v1h-1zM46 274h1v1h-1zM46 275h1v1h-1zM46 276h1v1h-1zM46 277h1v1h-1zM46 278h1v1h-1zM46 279h1v1h-1zM46 280h1v1h-1zM46 281h1v1h-1zM46 282h1v1h-1zM46 283h1v1h-1zM46 284h1v1h-1zM46 285h1v1h-1zM46 286h1v1h-1zM46 287h1v1h-1zM46 288h1v1h-1zM46 289h1v1h-1zM46 290h1v1h-1zM46 291h1v1h-1zM46 292h1v1h-1zM46 293h1v1h-1zM46 294h1v1h-1zM46 295h1v1h-1zM46 296h1v1h-1zM46 297h1v1h-1zM46 298h1v1h-1zM46 299h1v1h-1zM46 300h1v1h-1zM46 301h1v1h-1zM46 302h1v1h-1zM46 303h1v1h-1zM46 304h1v1h-1zM46 305h1v1h-1zM46 306h1v1h-1zM46 307h1v1h-1zM46 308h1v1h-1zM46 309h1v1h-1zM46 310h1v1h-1zM46 311h1v1h-1zM46 312h1v1h-1zM46 313h1v1h-1zM46 314h1v1h-1zM46 315h1v1h-1zM46 316h1v1h-1zM45 317h1v1h-1zM45 318h1v1h-1zM45 319h1v1h-1zM45 320h1v1h-1zM45 321h1v1h-1zM45 322h1v1h-1zM45 323h1v1h-1zM45 324h1v1h-1zM45 325h1v1h-1zM45 326h1v1h-1zM45 327h1v1h-1zM45 328h1v1h-1zM45 329h1v1h-1zM45 330h1v1h-1zM45 331h1v1h-1zM45 332h1v1h-1zM45 333h1v1h-1zM45 334h1v1h-1zM45 335h1v1h-1zM45 336h1v1h-1zM45 337h1v1h-1zM45 338h1v1h-1zM45 339h1v1h-1zM45 340h1v1h-1zM45 341h1v1h-1zM45 342h1v1h-1zM45 343h1v1h-1zM45 344h1v1h-1zM45 345h1v1h-1zM45 346h1v1h-1zM45 347h1v1h-1zM45 348h1v1h-1zM45 349h1v1h-1zM45 350h1v1h-1zM45 351h1v1h-1zM45 352h1v1h-1zM45 353h1v1h-1zM45 354h1v1h-1zM45 355h1v1h-1zM45 356h1v1h-1zM45 357h1v1h-1zM45 358h1v1h-1zM45 359h1v1h-1zM45 360h1v1h-1zM45 361h1v1h-1zM44 362h1v1h-1zM44 363h1v1h-1zM44 364h1v1h-1zM44 365h1v1h-1zM44 366h1v1h-1zM44 367h1v1h-1zM44 368h1v1h-1zM44 369h1v1h-1zM44 370h1v1h-1zM44 371h1v1h-1zM44 372h1v1h-1zM44 373h1v1h-1zM44 374h1v1h-1zM44 375h1v1h-1zM44 376h1v1h-1zM44 377h1v1h-1zM44 378h1v1h-1zM44 379h1v1h-1zM44 380h1v1h-1zM44 381h1v1h-1zM44 382h1v1h-1zM44 383h1v1h-1zM44 384h1v1h-1zM44 385h1v1h-1zM44 386h1v1h-1zM44 387h1v1h-1zM44 388h1v1h-1zM44 389h1v1h-1zM44 390h1v1h-1zM44 391h1v1h-1zM44 392h1v1h-1zM44 393h1v1h-1zM44 394h1v1h-1zM44 395h1v1h-1zM44 396h1v1h-1zM44 397h1v1h-1zM44 398h1v1h-1zM44 399h1v1h-1zM44 400h1v1h-1zM44 401h1v1h-1zM43 402h1v1h-1zM43 403h1v1h-1zM43 404h1v1h-1zM43 405h1v1h-1zM43 406h1v1h-1zM43 407h1v1h-1zM43 408h1v1h-1z" fill="#0000c0"/>
</g>
<g text-anchor="end" filter="url(#gs)" letter-spacing="-0.25">
<text x="36.15" y="414.2">2730</text>
<text x="36.15" y="394.2">2740</text>
<text x="36.15" y="374.2">2750</text>
<text x="36.15" y="354.2">2760</text>
<text x="36.15" y="334.2">2770</text>
<text x="36.15" y="314.2">2780</text>
<text x="36.15" y="294.2">2790</text>
<text x="36.15" y="274.2">2800</text>
<text x="36.15" y="254.2" clip-path="url(#c2810)">2810</text>
<text x="36.15" y="234.2">2820</text>
<text x="36.15" y="213.2">2830</text>
<text x="36.15" y="193.2">2840</text>
<text x="36.15" y="173.2">2850</text>
<text x="36.15" y="153.2">2860</text>
<text x="36.15" y="133.2">2870</text>
<text x="36.15" y="113.2">2880</text>
<text x="36.15" y="93.2">2890</text>
<text x="36.15" y="73.2">2900</text>
<text x="36.15" y="53.2" clip-path="url(#c2910)">2910</text>
<text x="36.15" y="33.2">2920</text>
<text x="36.15" y="13.2">2930</text>
</g><g filter="url(#gs)">
<text x="52.47" y="424.6" text-anchor="middle">July</text>
<text x="66.70" y="424.6" text-anchor="middle">Aug</text>
<text x="82.03" y="424.6" text-anchor="middle">Sep</text>
<text x="95.60" y="424.6" text-anchor="middle">Oct</text>
<text x="109.63" y="424.6" text-anchor="middle">Nov</text>
<text x="124.01" y="424.6" text-anchor="middle">Dec</text>
<text x="119.44" y="424.6" text-anchor="start" letter-spacing="-0.3">Jan</text>
<text x="142.84" y="424.6" text-anchor="start">20</text>
<text x="152.47" y="424.6" text-anchor="middle">Feb</text>
<text x="164.18" y="424.6" text-anchor="middle">Mar</text>
<text x="178.41" y="424.6" text-anchor="middle">Apr</text>
<text x="192.48" y="424.6" text-anchor="middle">May</text>
<text x="206.51" y="424.6" text-anchor="middle">June</text>
<text x="220.49" y="424.6" text-anchor="middle">July</text>
<text x="234.72" y="424.6" text-anchor="middle">Aug</text>
<text x="250.05" y="424.6" text-anchor="middle">Sep</text>
<text x="263.62" y="424.6" text-anchor="middle">Oct</text>
<text x="277.65" y="424.6" text-anchor="middle">Nov</text>
<text x="292.02" y="424.6" text-anchor="middle">Dec</text>
<text x="287.45" y="424.6" text-anchor="start" letter-spacing="-0.3">Jan</text>
<text x="310.85" y="424.6" text-anchor="start" clip-path="url(#c21)">21</text>
<text x="320.48" y="424.6" text-anchor="middle">Feb</text>
<text x="331.74" y="424.6" text-anchor="middle">Mar</text>
<text x="345.97" y="424.6" text-anchor="middle">Apr</text>
<text x="360.04" y="424.6" text-anchor="middle">May</text>
<text x="374.07" y="424.6" text-anchor="middle">June</text>
<text x="388.04" y="424.6" text-anchor="middle">July</text>
<text x="402.27" y="424.6" text-anchor="middle">Aug</text>
<text x="417.60" y="424.6" text-anchor="middle">Sep</text>
<text x="431.18" y="424.6" text-anchor="middle">Oct</text>
<text x="445.21" y="424.6" text-anchor="middle">Nov</text>
<text x="459.58" y="424.6" text-anchor="middle">Dec</text>
<text x="455.01" y="424.6" text-anchor="start" letter-spacing="-0.3">Jan</text>
<text x="478.41" y="424.6" text-anchor="start">22</text>
<text x="488.04" y="424.6" text-anchor="middle">Feb</text>
<text x="499.29" y="424.6" text-anchor="middle">Mar</text>
<text x="513.52" y="424.6" text-anchor="middle">Apr</text>
<text x="527.60" y="424.6" text-anchor="middle">May</text>
<text x="541.63" y="424.6" text-anchor="middle">June</text>
<text x="555.60" y="424.6" text-anchor="middle">July</text>
<text x="569.83" y="424.6" text-anchor="middle">Aug</text>
<text x="585.16" y="424.6" text-anchor="middle">Sep</text>
<text x="598.73" y="424.6" text-anchor="middle">Oct</text>
<text x="612.76" y="424.6" text-anchor="middle">Nov</text>
<text x="627.14" y="424.6" text-anchor="middle">Dec</text>
<text x="622.57" y="424.6" text-anchor="start" letter-spacing="-0.3">Jan</text>
<text x="645.97" y="424.6" text-anchor="start">23</text>
<text x="655.60" y="424.6" text-anchor="middle">Feb</text>
<text x="666.85" y="424.6" text-anchor="middle">Mar</text>
<text x="681.08" y="424.6" text-anchor="middle">Apr</text>
<text x="695.15" y="424.6" text-anchor="middle">May</text>
<text x="709.18" y="424.6" text-anchor="middle">June</text>
<text x="723.16" y="424.6" text-anchor="middle">July</text>
<text x="737.39" y="424.6" text-anchor="middle">Aug</text>
<text x="752.72" y="424.6" text-anchor="middle">Sep</text>
<text x="766.29" y="424.6" text-anchor="middle">Oct</text>
<text x="780.32" y="424.6" text-anchor="middle">Nov</text>
<text x="794.69" y="424.6" text-anchor="middle">Dec</text>
<text x="790.12" y="424.6" text-anchor="start" letter-spacing="-0.3">Jan</text>
<text x="813.52" y="424.6" text-anchor="start">24</text>
<text x="823.15" y="424.6" text-anchor="middle">Feb</text>
<text x="834.87" y="424.6" text-anchor="middle">Mar</text>
<text x="849.10" y="424.6" text-anchor="middle">Apr</text>
<text x="863.17" y="424.6" text-anchor="middle">May</text>
<text x="877.20" y="424.6" text-anchor="middle">June</text>
<text x="891.17" y="424.6" text-anchor="middle">July</text>
<text x="905.40" y="424.6" text-anchor="middle">Aug</text>
<text x="920.73" y="424.6" text-anchor="middle">Sep</text>
<text x="934.31" y="424.6" text-anchor="middle">Oct</text>
<text x="948.34" y="424.6" text-anchor="middle">Nov</text>
</g><defs><clipPath id="c2810"><path clip-rule="evenodd" d="M0 0H950V435H0ZM23.11 253.18H26.21V254.70H23.11Z M27.43 253.18H30.11V254.70H27.43Z"/></clipPath><clipPath id="c2910"><path clip-rule="evenodd" d="M0 0H950V435H0ZM23.11 52.18H26.21V53.70H23.11Z M27.43 52.18H30.11V53.70H27.43Z"/></clipPath><clipPath id="c21"><path clip-rule="evenodd" d="M0 0H950V435H0ZM317.32 423.58H320.42V425.10H317.32Z M321.64 423.58H324.32V425.10H321.64Z"/></clipPath></defs></svg></body></html>
